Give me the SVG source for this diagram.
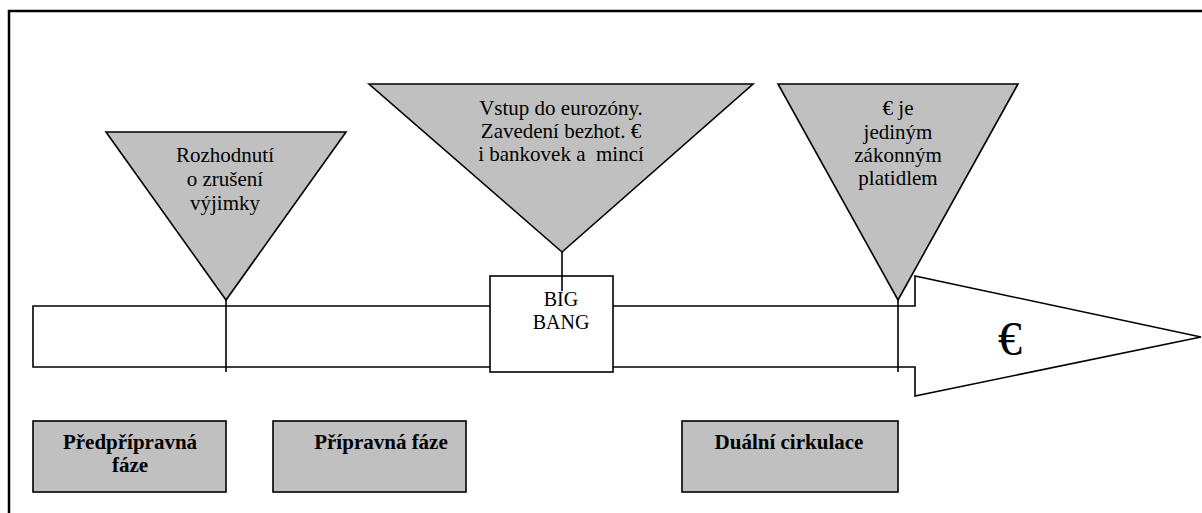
<svg xmlns="http://www.w3.org/2000/svg" width="1202" height="513" viewBox="0 0 1202 513">
<style>
.frame{fill:none;stroke:#000;stroke-width:2.5}
.shape{stroke:#000;stroke-width:1.6;stroke-linejoin:miter}
.grey{fill:#c0c0c0}
.white{fill:#fff}
text{font-family:'Liberation Serif','Times New Roman',serif;font-size:21px;fill:#000;text-anchor:middle}
.b{font-weight:bold}
.conn{stroke:#000;stroke-width:1.6;fill:none}
</style>
<rect width="1202" height="513" fill="#fff"/>
<path class="frame" d="M1210,11 H9 V520"/>
<g id="arrow">
<polygon class="shape white" points="33,306 915,306 915,276 1201,337 915,396 915,367 33,367"/>
<text x="1010" y="355" style="font-size:48px">€</text>
</g>
<g id="bigbang">
<rect class="shape white" x="490" y="276" width="123" height="96"/>
<text x="561" y="306" style="font-size:20px">BIG</text>
<text x="561" y="329" style="font-size:20px">BANG</text>
</g>
<g id="tri1">
<polygon class="shape grey" points="106,132 346,132 226,300"/>
<text x="225" y="162">Rozhodnutí</text>
<text x="225" y="186">o zrušení</text>
<text x="225" y="210">výjimky</text>
</g>
<g id="tri2">
<polygon class="shape grey" points="369,84 753,84 562,252"/>
<text x="561" y="115">Vstup do eurozóny.</text>
<text x="561" y="138">Zavedení bezhot. €</text>
<text x="561" y="161" xml:space="preserve">i bankovek a  mincí</text>
</g>
<g id="tri3">
<polygon class="shape grey" points="778,84 1018,84 898,300"/>
<text x="898" y="115">€ je</text>
<text x="898" y="139">jediným</text>
<text x="898" y="162">zákonným</text>
<text x="898" y="185">platidlem</text>
</g>
<g id="connectors">
<line class="conn" x1="226" y1="300" x2="226" y2="372"/>
<line class="conn" x1="562" y1="252" x2="562" y2="291"/>
<line class="conn" x1="898" y1="300" x2="898" y2="372"/>
</g>
<g id="phase1">
<rect class="shape grey" x="33" y="421" width="193" height="71"/>
<text class="b" x="130" y="449">Předpřípravná</text>
<text class="b" x="130" y="472">fáze</text>
</g>
<g id="phase2">
<rect class="shape grey" x="273" y="421" width="193" height="71"/>
<text class="b" x="381" y="449">Přípravná fáze</text>
</g>
<g id="phase3">
<rect class="shape grey" x="682" y="421" width="216" height="71"/>
<text class="b" x="789" y="449">Duální cirkulace</text>
</g>
</svg>
